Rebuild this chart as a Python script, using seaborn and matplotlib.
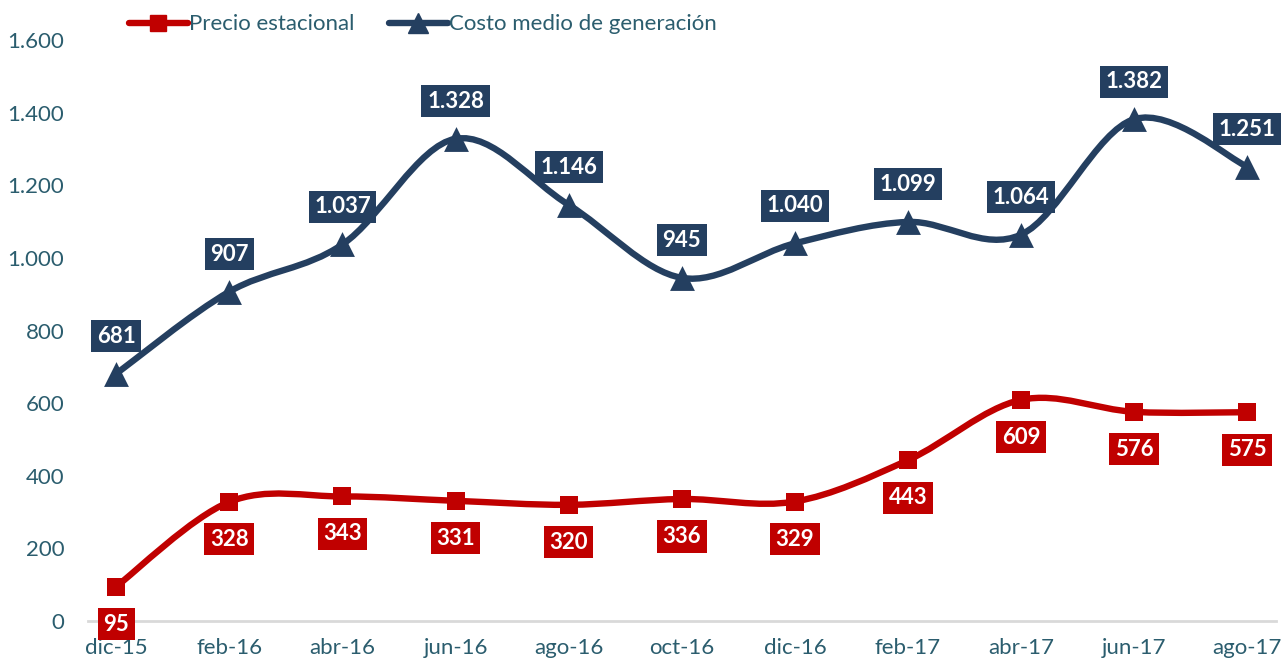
import matplotlib
matplotlib.use('Agg')
import matplotlib.pyplot as plt
from matplotlib.path import Path
from matplotlib.patches import PathPatch
from matplotlib.lines import Line2D
from matplotlib.ticker import FuncFormatter
import numpy as np
import pandas as pd
import seaborn as sns

meses = ['dic-15', 'feb-16', 'abr-16', 'jun-16', 'ago-16', 'oct-16',
         'dic-16', 'feb-17', 'abr-17', 'jun-17', 'ago-17']
precio_estacional = [95, 328, 343, 331, 320, 336, 329, 443, 609, 576, 575]
costo_medio = [681, 907, 1037, 1328, 1146, 945, 1040, 1099, 1064, 1382, 1251]

rojo = '#C00000'
azul = '#243F60'
texto = '#2B5D6E'

sns.set_theme(style='white')
plt.rcParams['font.family'] = ['Lato', 'DejaVu Sans']

df = pd.DataFrame({'mes': meses, 'x': range(len(meses)),
                   'precio': precio_estacional, 'costo': costo_medio})


def smooth_path(xs, ys):
    # bezier smoothing, like the spreadsheet "smoothed line"
    pts = np.column_stack([xs, ys]).astype(float)
    verts = [pts[0]]
    codes = [Path.MOVETO]
    n = len(pts)
    for i in range(n - 1):
        p0 = pts[i - 1] if i > 0 else pts[i]
        p1 = pts[i]
        p2 = pts[i + 1]
        p3 = pts[i + 2] if i + 2 < n else pts[i + 1]
        c1 = p1 + (p2 - p0) / 6.0
        c2 = p2 - (p3 - p1) / 6.0
        verts += [c1, c2, p2]
        codes += [Path.CURVE4] * 3
    return Path(verts, codes)


fig = plt.figure(figsize=(12.82, 6.62), dpi=100)
ax = fig.add_axes([0.0686, 0.0619, 0.9264, 0.8777])

for col, color in [('precio', rojo), ('costo', azul)]:
    patch = PathPatch(smooth_path(df['x'], df[col]), facecolor='none',
                      edgecolor=color, lw=4.6, capstyle='round', zorder=3)
    ax.add_patch(patch)

sns.scatterplot(data=df, x='x', y='precio', marker='s', s=150, color=rojo,
                edgecolor=rojo, linewidth=0, zorder=4, ax=ax, legend=False)
sns.scatterplot(data=df, x='x', y='costo', marker='^', s=320, color=azul,
                edgecolor=azul, linewidth=0, zorder=4, ax=ax, legend=False)


def fmt(v):
    return f'{v:,.0f}'.replace(',', '.')


for x, v in zip(df['x'], df['precio']):
    ax.annotate(fmt(v), (x, v), xytext=(0, -27), textcoords='offset points',
                ha='center', va='center', color='white', fontsize=16,
                fontweight='bold', zorder=5, annotation_clip=False,
                bbox=dict(boxstyle='square,pad=0.25', fc=rojo, ec='none'))
for x, v in zip(df['x'], df['costo']):
    ax.annotate(fmt(v), (x, v), xytext=(0, 27), textcoords='offset points',
                ha='center', va='center', color='white', fontsize=16,
                fontweight='bold', zorder=5, annotation_clip=False,
                bbox=dict(boxstyle='square,pad=0.25', fc=azul, ec='none'))

ax.set_xlim(-0.25, len(meses) - 0.75)
ax.set_ylim(0, 1600)
ax.set_yticks(range(0, 1601, 200))
ax.yaxis.set_major_formatter(FuncFormatter(lambda v, p: fmt(v)))
ax.set_xticks(df['x'])
ax.set_xticklabels(meses)
ax.tick_params(axis='both', colors=texto, labelsize=16, length=0)
ax.tick_params(axis='y', pad=17)
ax.tick_params(axis='x', pad=12)
ax.set_xlabel('')
ax.set_ylabel('')
for s in ['top', 'right', 'left']:
    ax.spines[s].set_visible(False)
ax.spines['bottom'].set_color('#D9D9D9')
ax.spines['bottom'].set_linewidth(2)
ax.spines['bottom'].set_zorder(1)

handles = [Line2D([], [], color=rojo, lw=4.6, marker='s', markersize=12),
           Line2D([], [], color=azul, lw=4.6, marker='^', markersize=14)]
leg = fig.legend(handles, ['Precio estacional', 'Costo medio de generación'],
                 loc='center left', bbox_to_anchor=(0.085, 0.963), ncol=2,
                 frameon=False, fontsize=16, handlelength=2.65,
                 handletextpad=0.05, columnspacing=1.55)
for t in leg.get_texts():
    t.set_color(texto)

fig.savefig('out.png', dpi=100)
